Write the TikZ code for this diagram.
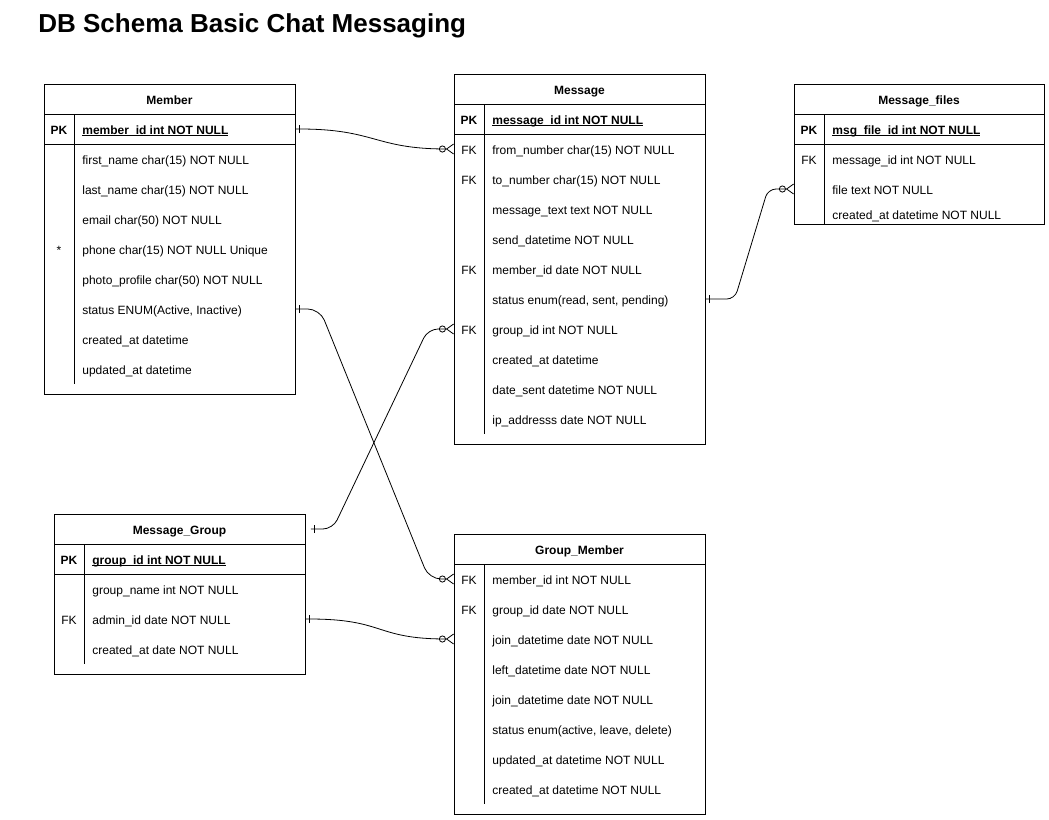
\documentclass[tikz,border=0pt]{standalone}
\usepackage{fontspec}
\setmainfont{Liberation Sans}
\usetikzlibrary{arrows.meta}
\newcommand\pkname[1]{\setbox0\hbox{#1}\rlap{\rule[-1.6pt]{\wd0}{0.8pt}}\box0}
\begin{document}
\begin{tikzpicture}[
  x=1pt, y=-1pt, line width=0.8pt,
  tbl/.style={rectangle, draw, anchor=north west, minimum width=251pt, inner sep=0pt},
  head/.style={font=\fontsize{12}{14}\selectfont\bfseries, inner sep=0pt, text height=10pt, text depth=0pt},
  key/.style={font=\fontsize{12}{14}\selectfont, inner sep=0pt, text height=10pt, text depth=0pt},
  pk/.style={key, font=\fontsize{12}{14}\selectfont\bfseries},
  field/.style={key, anchor=west},
  pkfield/.style={pk, anchor=west},
  rel/.style={line width=0.8pt, arrows={Butt Cap[length=3pt,sep=0pt] Bar[width=8pt,sep=0pt]-Circle[open,length=7pt,width=7pt] Straight Barb[reversed,length=7pt,width=10pt]}}
]
\useasboundingbox (0,0) rectangle (1049,819);

\node[anchor=base west, inner sep=0pt, font=\fontsize{26}{30}\selectfont\bfseries] (ttl) at (38,32) {DB Schema Basic Chat Messaging};

% Member
\node[tbl, minimum height=310pt] (mbr) at (44,84) {};
\node[head] (mbrh) at (169.5,99) {Member};
\draw (44,114) -- (295,114) (44,144) -- (295,144) (74,114) -- (74,384);
\node[pk] at (59,129) {PK};
\node[pkfield] (mbr1) at (82,129) {\pkname{member\_id int NOT NULL}};
\node[field] (mbr2) at (82,159) {first\_name char(15) NOT NULL};
\node[field] (mbr3) at (82,189) {last\_name char(15) NOT NULL};
\node[field] (mbr4) at (82,219) {email char(50) NOT NULL};
\node[key] at (59,249) {*};
\node[field] (mbr5) at (82,249) {phone char(15) NOT NULL Unique};
\node[field] (mbr6) at (82,279) {photo\_profile char(50) NOT NULL};
\node[field] (mbr7) at (82,309) {status ENUM(Active, Inactive)};
\node[field] (mbr8) at (82,339) {created\_at datetime};
\node[field] (mbr9) at (82,369) {updated\_at datetime};

% Message
\node[tbl, minimum height=370pt] (msg) at (454,74) {};
\node[head] (msgh) at (579.5,89) {Message};
\draw (454,104) -- (705,104) (454,134) -- (705,134) (484,104) -- (484,434);
\node[pk] at (469,119) {PK};
\node[pkfield] (msg1) at (492,119) {\pkname{message\_id int NOT NULL}};
\node[key] at (469,149) {FK};
\node[field] (msg2) at (492,149) {from\_number char(15) NOT NULL};
\node[key] at (469,179) {FK};
\node[field] (msg3) at (492,179) {to\_number char(15) NOT NULL};
\node[field] (msg4) at (492,209) {message\_text text NOT NULL};
\node[field] (msg5) at (492,239) {send\_datetime NOT NULL};
\node[key] at (469,269) {FK};
\node[field] (msg6) at (492,269) {member\_id date NOT NULL};
\node[field] (msg7) at (492,299) {status enum(read, sent, pending)};
\node[key] at (469,329) {FK};
\node[field] (msg8) at (492,329) {group\_id int NOT NULL};
\node[field] (msg9) at (492,359) {created\_at datetime};
\node[field] (msg10) at (492,389) {date\_sent datetime NOT NULL};
\node[field] (msg11) at (492,419) {ip\_addresss date NOT NULL};

% Message_files
\node[tbl, minimum width=250pt, minimum height=140pt] (mf) at (794,84) {};
\node[head] (mfh) at (919,99) {Message\_files};
\draw (794,114) -- (1044,114) (794,144) -- (1044,144) (824,114) -- (824,224);
\node[pk] at (809,129) {PK};
\node[pkfield] (mf1) at (832,129) {\pkname{msg\_file\_id int NOT NULL}};
\node[key] at (809,159) {FK};
\node[field] (mf2) at (832,159) {message\_id int NOT NULL};
\node[field] (mf3) at (832,189) {file text NOT NULL};
\node[field] (mf4) at (832,214) {created\_at datetime NOT NULL};

% Message_Group
\node[tbl, minimum height=160pt] (mg) at (54,514) {};
\node[head] (mgh) at (179.5,529) {Message\_Group};
\draw (54,544) -- (305,544) (54,574) -- (305,574) (84,544) -- (84,664);
\node[pk] at (69,559) {PK};
\node[pkfield] (mg1) at (92,559) {\pkname{group\_id int NOT NULL}};
\node[field] (mg2) at (92,589) {group\_name int NOT NULL};
\node[key] at (69,619) {FK};
\node[field] (mg3) at (92,619) {admin\_id date NOT NULL};
\node[field] (mg4) at (92,649) {created\_at date NOT NULL};

% Group_Member
\node[tbl, minimum height=280pt] (gm) at (454,534) {};
\node[head] (gmh) at (579.5,549) {Group\_Member};
\draw (454,564) -- (705,564) (484,564) -- (484,804);
\node[key] at (469,579) {FK};
\node[field] (gm1) at (492,579) {member\_id int NOT NULL};
\node[key] at (469,609) {FK};
\node[field] (gm2) at (492,609) {group\_id date NOT NULL};
\node[field] (gm3) at (492,639) {join\_datetime date NOT NULL};
\node[field] (gm4) at (492,669) {left\_datetime date NOT NULL};
\node[field] (gm5) at (492,699) {join\_datetime date NOT NULL};
\node[field] (gm6) at (492,729) {status enum(active, leave, delete)};
\node[field] (gm7) at (492,759) {updated\_at datetime NOT NULL};
\node[field] (gm8) at (492,789) {created\_at datetime NOT NULL};

% relations
\draw[rel] (mbr.east |- mbr1) .. controls +(80,0) and +(-80,0) .. (msg.west |- msg2);
\draw[rel, rounded corners=12pt] (mbr.east |- mbr7) -- ++(24,0) -- ([xshift=-25pt]gm.west |- gm1) -- (gm.west |- gm1);
\draw[rel, rounded corners=10pt] ([xshift=5pt]mg.east |- mgh) -- ++(22,0) -- ([xshift=-26pt]msg.west |- msg8) -- (msg.west |- msg8);
\draw[rel] (mg.east |- mg3) .. controls +(80,0) and +(-80,0) .. (gm.west |- gm3);
\draw[rel, rounded corners=8pt] (msg.east |- msg7) -- ++(29,0) -- ([xshift=-26pt]mf.west |- mf3) -- (mf.west |- mf3);

\end{tikzpicture}
\end{document}
